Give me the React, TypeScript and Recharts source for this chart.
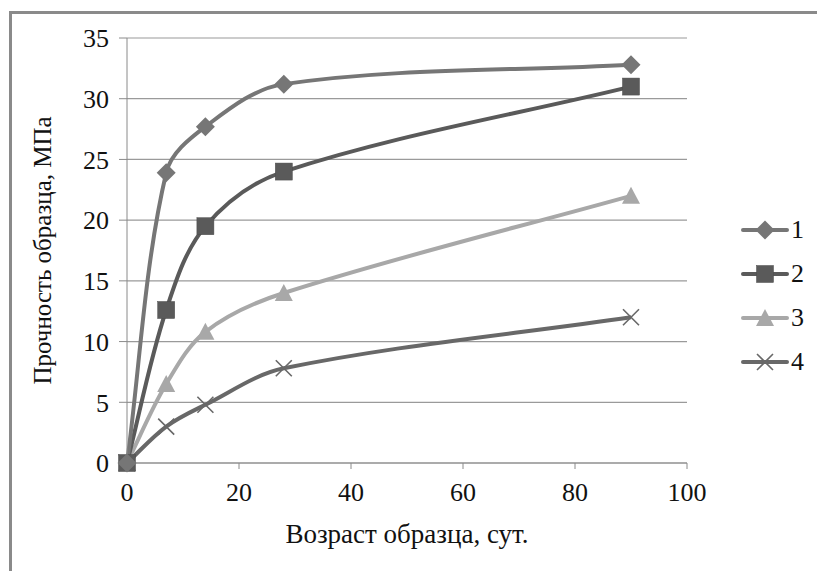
import React from 'react';
import { LineChart, Line, XAxis, YAxis, CartesianGrid, Label } from 'recharts';

const ages = [0, 7, 14, 28, 90];
const series1 = [0, 23.9, 27.7, 31.2, 32.8];
const series2 = [0, 12.6, 19.5, 24, 31];
const series3 = [0, 6.5, 10.8, 14, 22];
const series4 = [0, 3.0, 4.8, 7.8, 12];
const xTicks = [0, 20, 40, 60, 80, 100];
const yTicks = [0, 5, 10, 15, 20, 25, 30, 35];
const seriesNames = ['1', '2', '3', '4'];

const data = ages.map((x, i) => ({
    x,
    s1: series1[i],
    s2: series2[i],
    s3: series3[i],
    s4: series4[i],
}));

const colors = ['#767676', '#5a5a5a', '#a8a8a8', '#686868'];
const font = 'Liberation Serif';

// smoothed line similar to Excel: tangent along neighbours, handle length from the segment itself
const excelCurve: any = (context: any) => {
    let pts: number[][] = [];
    const tangent = (a: number[], b: number[]) => {
        const dx = b[0] - a[0];
        const dy = b[1] - a[1];
        const len = Math.hypot(dx, dy) || 1;
        return [dx / len, dy / len];
    };
    return {
        areaStart() {},
        areaEnd() {},
        lineStart() { pts = []; },
        point(x: number, y: number) { pts.push([+x, +y]); },
        lineEnd() {
            if (!pts.length) return;
            context.moveTo(pts[0][0], pts[0][1]);
            for (let i = 0; i < pts.length - 1; i++) {
                const p0 = pts[i - 1] || pts[i];
                const p1 = pts[i];
                const p2 = pts[i + 1];
                const p3 = pts[i + 2] || pts[i + 1];
                const seg = Math.hypot(p2[0] - p1[0], p2[1] - p1[1]) / 3;
                const t1 = tangent(p0, p2);
                const t2 = tangent(p1, p3);
                context.bezierCurveTo(
                    p1[0] + t1[0] * seg, p1[1] + t1[1] * seg,
                    p2[0] - t2[0] * seg, p2[1] - t2[1] * seg,
                    p2[0], p2[1]
                );
            }
        },
    };
};

// marker shapes, like Excel's default ones
function marker(kind: number, cx: number, cy: number, color: string, key?: string) {
    if (kind === 0) {
        const r = 9.5;
        return <path key={key} d={`M${cx},${cy - r}L${cx + r},${cy}L${cx},${cy + r}L${cx - r},${cy}Z`} fill={color} />;
    }
    if (kind === 1) {
        return <rect key={key} x={cx - 8.5} y={cy - 8.5} width={17} height={17} fill={color} stroke="#4a4a4a" strokeWidth={0.5} />;
    }
    if (kind === 2) {
        return <path key={key} d={`M${cx},${cy - 9}L${cx + 9},${cy + 8}L${cx - 9},${cy + 8}Z`} fill={color} />;
    }
    return (
        <path key={key} d={`M${cx - 8},${cy - 8}L${cx + 8},${cy + 8}M${cx + 8},${cy - 8}L${cx - 8},${cy + 8}`} stroke={color} strokeWidth={1.6} fill="none" />
    );
}

const makeDot = (kind: number) => (props: any) => {
    const { cx, cy, index } = props;
    if (cx == null || cy == null) return <g key={`d-${kind}-${index}`} />;
    return marker(kind, cx, cy, colors[kind], `d-${kind}-${index}`);
};

function LegendBox() {
    return (
        <div style={{ position: 'absolute', left: 741, top: 208, fontFamily: font, fontSize: 26, color: '#111' }}>
            {seriesNames.map((name, i) => (
                <div key={name} style={{ display: 'flex', alignItems: 'center', height: 44 }}>
                    <svg width={48} height={24}>
                        <line x1={2} y1={12} x2={46} y2={12} stroke={colors[i]} strokeWidth={4} strokeLinecap="round" />
                        {marker(i, 24, 12, colors[i])}
                    </svg>
                    <span style={{ marginLeft: 2 }}>{name}</span>
                </div>
            ))}
        </div>
    );
}

const tickStyle = { fill: '#111', fontFamily: font, fontSize: 26 };

export default function App() {
    return (
        <div style={{ position: 'absolute', left: 0, top: 0, width: 817, height: 571, background: '#fff', overflow: 'hidden', fontFamily: font }}>
            <div style={{
                position: 'absolute', left: 9, top: 11, width: 820, height: 580,
                borderLeft: '3px solid #8a8a8a', borderTop: '3px solid #8a8a8a'
            }} />
            <div style={{ position: 'absolute', left: 0, top: 0 }}>
                <LineChart width={817} height={571} data={data} margin={{ top: 38, right: 130, bottom: 38, left: 57 }}
                    style={{ fontFamily: font }}>
                    <CartesianGrid horizontal vertical={false} stroke="#9a9a9a" strokeWidth={1.2} />
                    <XAxis
                        type="number"
                        dataKey="x"
                        domain={[0, 100]}
                        ticks={xTicks}
                        height={70}
                        tickSize={6}
                        tickMargin={14}
                        stroke="#8a8a8a"
                        tick={tickStyle}
                        interval={0}
                    >
                        <Label value="Возраст образца, сут." position="center" dy={35}
                            style={{ ...tickStyle, fontSize: 27 }} />
                    </XAxis>
                    <YAxis
                        type="number"
                        domain={[0, 35]}
                        ticks={yTicks}
                        width={70}
                        tickSize={8}
                        tickMargin={10}
                        stroke="#8a8a8a"
                        tick={tickStyle}
                        interval={0}
                    >
                        <Label value="Прочность образца, МПа" angle={-90} position="center" dx={-50}
                            style={{ ...tickStyle, fontSize: 25, textAnchor: 'middle' }} />
                    </YAxis>
                    <Line type={excelCurve} dataKey="s4" name="4" stroke={colors[3]} strokeWidth={4} dot={makeDot(3)} isAnimationActive={false} />
                    <Line type={excelCurve} dataKey="s3" name="3" stroke={colors[2]} strokeWidth={4} dot={makeDot(2)} isAnimationActive={false} />
                    <Line type={excelCurve} dataKey="s2" name="2" stroke={colors[1]} strokeWidth={4} dot={makeDot(1)} isAnimationActive={false} />
                    <Line type={excelCurve} dataKey="s1" name="1" stroke={colors[0]} strokeWidth={4} dot={makeDot(0)} isAnimationActive={false} />
                </LineChart>
            </div>
            <LegendBox />
        </div>
    );
}
